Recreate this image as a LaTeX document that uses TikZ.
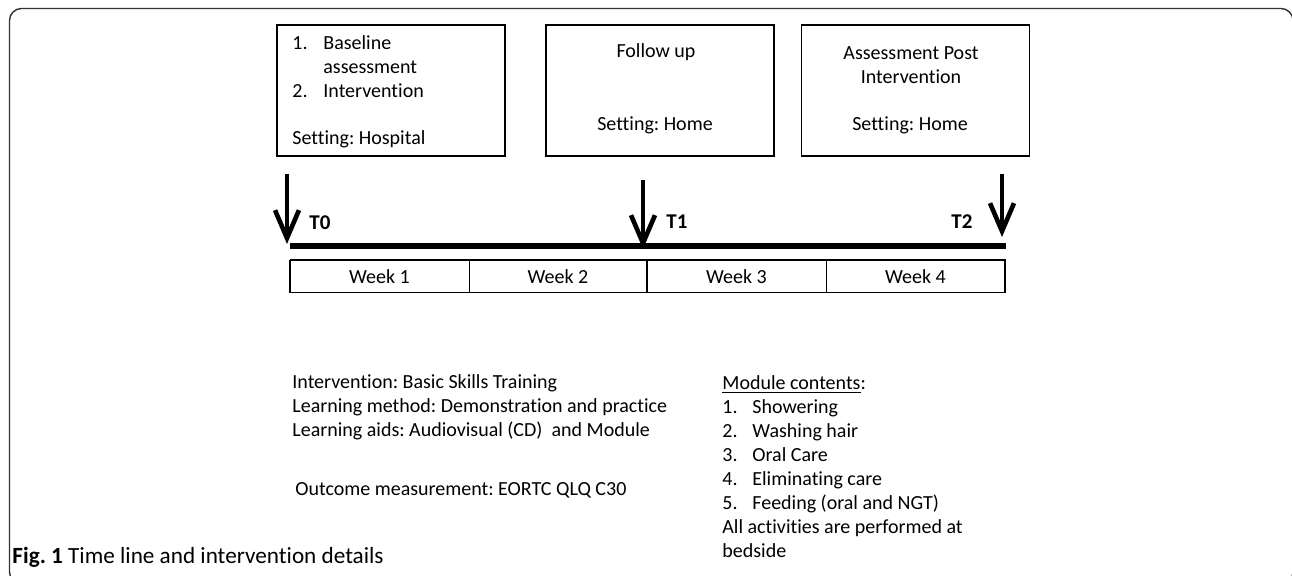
\documentclass[tikz,border=0pt]{standalone}
\usepackage{fontspec}
\setmainfont{Carlito}[Ligatures=NoCommon]
\usepackage{tikz}
\usetikzlibrary{arrows.meta,positioning}
\frenchspacing
\tikzset{
    >={Straight Barb[length=14pt 0,width=12pt 0]},
    stagebox/.style={
        rectangle,
        draw=black, line width=0.7pt,
        minimum width=114pt,
        minimum height=65.5pt,
        inner sep=0pt
    },
    txt/.style={
        inner sep=0pt,
        font=\fontsize{10}{12}\selectfont
    },
    tlabel/.style={
        inner sep=0pt,
        font=\fontsize{10.5}{12}\selectfont\bfseries
    },
    weekcell/.style={
        rectangle,
        draw=black, line width=0.5pt,
        minimum height=16.5pt,
        inner sep=0pt,
        outer sep=0pt,
        font=\fontsize{10}{12}\selectfont
    },
    timearrow/.style={->, line width=2.3pt},
    timeline/.style={line width=3pt}
}
\begin{document}
\begin{tikzpicture}[x=0.5pt,y=-0.5pt]
    \useasboundingbox (0,0) rectangle (1292,576);
    % frame
    \draw[black!80, line width=0.7pt, rounded corners=6pt] (9.5,8.5) rectangle (1293,584);

    % -- stage boxes -- %
    \node[stagebox] (baseline) at (391,90.5) {};
    \node[stagebox] (followup) at (660,90.5) {};
    \node[stagebox] (postint) at (915.5,90.5) {};

    \node[txt, anchor=north west] (baselinelist) at (292,32) {%
        \begin{tabular}{@{}l@{}l@{}}
            \makebox[15.5pt][l]{1.} & Baseline\\
               & assessment\\
            \makebox[15.5pt][l]{2.} & Intervention
        \end{tabular}};
    \node[txt, anchor=west] (hospital) at (292,139) {Setting: Hospital};

    \node[txt] (followtxt) at (656,52) {Follow up};
    \node[txt] (home1) at (655,125) {Setting: Home};

    \node[txt, align=center] (posttxt) at (911,65) {Assessment Post\\Intervention};
    \node[txt] (home2) at (910,125) {Setting: Home};

    % -- time line -- %
    \coordinate (lstart) at (290,246);
    \coordinate (lend) at (1006,246);
    \draw[timeline] (lstart) -- (lend);

    \coordinate (a0) at (287,174);
    \coordinate (t0) at (287,244);
    \coordinate (a1) at (643,180);
    \coordinate (t1) at (643,249);
    \coordinate (a2) at (1002,174);
    \coordinate (t2) at (1002,237);
    \draw[timearrow] (a0) -- (t0);
    \draw[timearrow] (a1) -- (t1);
    \draw[timearrow] (a2) -- (t2);

    \node[tlabel] (T0) at (320,223) {T0};
    \node[tlabel] (T1) at (677,222) {T1};
    \node[tlabel] (T2) at (962,222) {T2};

    % -- weeks -- %
    \node[weekcell, minimum width=89.5pt, anchor=north west] (week1) at (290,260) {Week 1};
    \node[weekcell, minimum width=89pt, anchor=west] (week2) at (week1.east) {Week 2};
    \node[weekcell, minimum width=89.5pt, anchor=west] (week3) at (week2.east) {Week 3};
    \node[weekcell, minimum width=89.5pt, anchor=west] (week4) at (week3.east) {Week 4};
    \draw[line width=1.2pt] (week1.north west) -- (week4.north east);
    \draw[line width=1pt] (week1.north west) -- (week1.south west);
    \draw[line width=1pt] (week4.north east) -- (week4.south east);
    \draw[line width=0.8pt] (week3.north west) -- (week3.south west);

    % -- details -- %
    \node[txt, anchor=north west, align=left] (details) at (292,374) {%
        Intervention: Basic Skills Training\\
        Learning method: Demonstration and practice\\
        Learning aids: Audiovisual (CD)~ and Module};
    \node[txt, anchor=west] (outcome) at (295,490) {Outcome measurement: EORTC QLQ C30};

    \node[txt, anchor=north west] (module) at (722,372) {%
        \begin{tabular}{@{}l@{}l@{}}
            \multicolumn{2}{@{}l@{}}{\underline{Module contents}:}\\
            \makebox[15pt][l]{1.} & Showering\\
            \makebox[15pt][l]{2.} & Washing hair\\
            \makebox[15pt][l]{3.} & Oral Care\\
            \makebox[15pt][l]{4.} & Eliminating care\\
            \makebox[15pt][l]{5.} & Feeding (oral and NGT)\\
            \multicolumn{2}{@{}l@{}}{All activities are performed at}\\
            \multicolumn{2}{@{}l@{}}{bedside}
        \end{tabular}};

    % -- caption -- %
    \node[anchor=west, inner sep=0pt, font=\fontsize{11.6}{13}\selectfont] (caption) at (12,557)
        {\textbf{Fig. 1} Time line and intervention details};
\end{tikzpicture}
\end{document}
